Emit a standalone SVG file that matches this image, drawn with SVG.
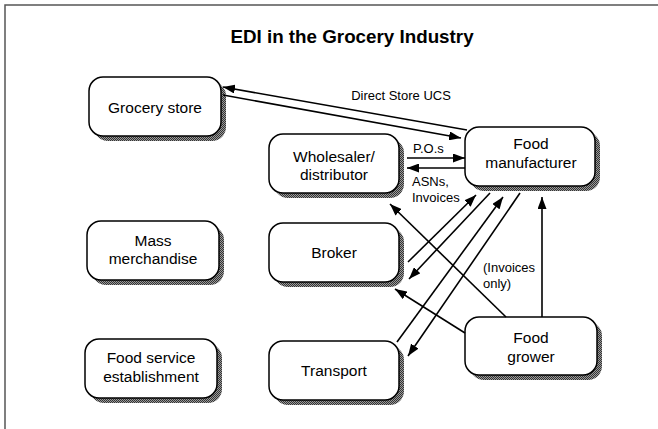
<svg xmlns="http://www.w3.org/2000/svg" width="658" height="429" viewBox="0 0 658 429">
<defs>
<style>
.box{fill:#fff;stroke:#000;stroke-width:1.5}
.sh{fill:url(#hatch)}
.nt{font-family:"Liberation Sans",Arial,sans-serif;font-size:15.5px;fill:#000;text-anchor:middle}
.lb{font-family:"Liberation Sans",Arial,sans-serif;font-size:13px;fill:#000}
.cn{stroke:#000;stroke-width:1.6;fill:none}
.ar{marker-end:url(#ah)}
</style>
<pattern id="hatch" width="2" height="2" patternUnits="userSpaceOnUse"><rect width="2" height="2" fill="#9a9a9a"/><rect width="1" height="1" fill="#333"/><rect x="1" y="1" width="1" height="1" fill="#333"/></pattern>
<marker id="ah" viewBox="0 0 12 9" refX="12" refY="4.5" markerWidth="12" markerHeight="9" orient="auto" markerUnits="userSpaceOnUse"><path d="M0,0 L12,4.5 L0,9 z" fill="#000"/></marker>
</defs>
<rect x="0" y="0" width="658" height="429" fill="#fff"/>
<path d="M5,429 V5 H658" fill="none" stroke="#555" stroke-width="1.5"/>
<text x="352" y="43" font-family="'Liberation Sans',Arial,sans-serif" font-size="18.8" font-weight="bold" text-anchor="middle">EDI in the Grocery Industry</text>

<g id="grocery-store"><rect class="sh" x="94" y="82" width="132" height="59" rx="14"/><rect class="box" x="89" y="77" width="132" height="59" rx="14"/><text class="nt" x="155" y="113">Grocery store</text></g>
<g id="wholesaler"><rect class="sh" x="274" y="139" width="130" height="59" rx="14"/><rect class="box" x="269" y="134" width="130" height="59" rx="14"/><text class="nt" x="334" y="162">Wholesaler/</text><text class="nt" x="334" y="180">distributor</text></g>
<g id="food-manufacturer"><rect class="sh" x="470" y="132" width="130" height="59" rx="14"/><rect class="box" x="465" y="127" width="130" height="59" rx="14"/><text class="nt" x="531" y="149">Food</text><text class="nt" x="531" y="168">manufacturer</text></g>
<g id="mass-merchandise"><rect class="sh" x="92" y="226" width="132" height="59" rx="14"/><rect class="box" x="87" y="221" width="132" height="59" rx="14"/><text class="nt" x="153" y="246">Mass</text><text class="nt" x="153" y="264">merchandise</text></g>
<g id="broker"><rect class="sh" x="274" y="228" width="130" height="59" rx="14"/><rect class="box" x="269" y="223" width="130" height="59" rx="14"/><text class="nt" x="334" y="258">Broker</text></g>
<g id="food-service"><rect class="sh" x="90" y="344" width="132" height="59" rx="14"/><rect class="box" x="85" y="339" width="132" height="59" rx="14"/><text class="nt" x="151" y="363">Food service</text><text class="nt" x="151" y="382">establishment</text></g>
<g id="transport"><rect class="sh" x="274" y="346" width="130" height="59" rx="14"/><rect class="box" x="269" y="341" width="130" height="59" rx="14"/><text class="nt" x="334" y="376">Transport</text></g>
<g id="food-grower"><rect class="sh" x="470" y="322" width="132" height="58" rx="14"/><rect class="box" x="465" y="317" width="132" height="58" rx="14"/><text class="nt" x="531" y="343">Food</text><text class="nt" x="531" y="362">grower</text></g>

<g id="connectors">
<path class="cn ar" d="M467,130 L223,87"/>
<path class="cn ar" d="M223,95 L461,138"/>
<path class="cn ar" d="M407,158 L465,158"/>
<path class="cn ar" d="M465,168 L407,168"/>
<path class="cn ar" d="M408,262 L476,195"/>
<path class="cn ar" d="M490,193 L409,279"/>
<path class="cn ar" d="M397,342 L503,197"/>
<path class="cn ar" d="M520,193 L408,356"/>
<path class="cn ar" d="M542,317 L542,197"/>
<path class="cn ar" d="M506,317 L390,204"/>
<path class="cn ar" d="M465,333 L395,289"/>
<text class="lb" x="401" y="100" text-anchor="middle">Direct Store UCS</text>
<text class="lb" x="413" y="153">P.O.s</text>
<text class="lb" x="412" y="186">ASNs,</text>
<text class="lb" x="412" y="202">Invoices</text>
<text class="lb" x="483" y="272">(Invoices</text>
<text class="lb" x="483" y="288">only)</text>
</g>
</svg>
